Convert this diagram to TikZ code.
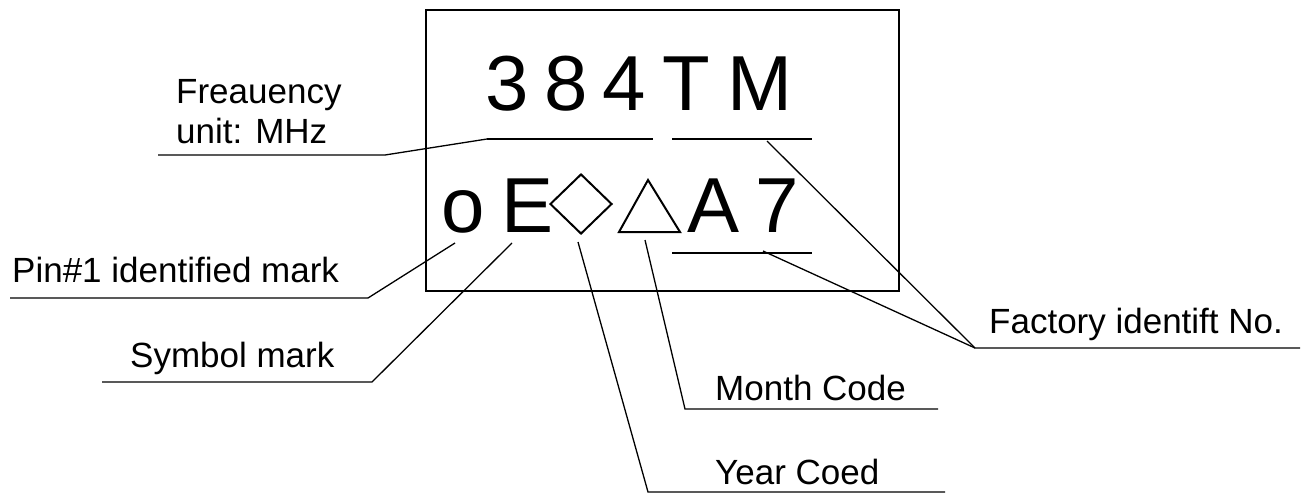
\documentclass[tikz,border=0pt]{standalone}
\usepackage{fontspec}
\setmainfont{Liberation Sans}
\usetikzlibrary{shapes.geometric}

\begin{document}
\begin{tikzpicture}[x=1pt,y=-1pt,
		bigchar/.style={font=\fontsize{78}{80}\selectfont, inner sep=0pt, anchor=base},
		leadtext/.style={font=\fontsize{35}{40}\selectfont, inner sep=0pt, anchor=base west},
		leader/.style={line width=1.3pt},
		underline/.style={line width=1.6pt},
		symbol/.style={line width=2pt, line join=miter}]
	\fill[white] (0,0) rectangle (1309,493);
	\useasboundingbox (0,0) rectangle (1309,493);
	% marking area
	\draw[line width=2pt] (426,10) rectangle (899,291);
	% first row: frequency and factory No.
	\node[bigchar] (c3) at (507.5,110) {3};
	\node[bigchar] (c8) at (566,110) {8};
	\node[bigchar] (c4) at (624,110) {4};
	\node[bigchar] (cT) at (686.5,110) {T};
	\node[bigchar] (cM) at (760,110) {M};
	% second row: marks and codes
	\node[bigchar] (co) at (463.5,232) {o};
	\node[bigchar] (cE) at (528,232) {E};
	\node[draw, symbol, diamond, inner sep=0pt, minimum width=62pt, minimum height=60pt] (year) at (581,204) {};
	\coordinate (triL) at (619,232);
	\coordinate (triT) at (648,180);
	\coordinate (triR) at (680,232);
	\draw[symbol] (triL) -- (triT) -- (triR) -- cycle;
	\node[bigchar] (cA) at (713.5,232) {A};
	\node[bigchar] (c7) at (777.5,232) {7};
	% underlines
	\coordinate (freqL) at (487,139);
	\coordinate (freqR) at (653,139);
	\coordinate (facL) at (672,139);
	\coordinate (facR) at (812,139);
	\coordinate (codeL) at (672,253);
	\coordinate (codeR) at (812,253);
	\draw[underline] (freqL) -- (freqR);
	\draw[underline] (facL) -- (facR);
	\draw[underline] (codeL) -- (codeR);
	% labels
	\node[leadtext] (freq1) at (176,103) {Freauency};
	\node[leadtext] (freq2) at (176,143) {unit: MHz};
	\node[leadtext] (pin) at (12,282) {Pin\#1 identified mark};
	\node[leadtext] (sym) at (130,367) {Symbol mark};
	\node[leadtext] (fac) at (989,333) {Factory identift No.};
	\node[leadtext] (month) at (715,400) {Month Code};
	\node[leadtext] (yr) at (715,484) {Year Coed};
	% leader lines
	\coordinate (freqA) at (385,155);
	\coordinate (freqB) at (158,155);
	\draw[leader] (freqL) -- (freqA) -- (freqB);
	\coordinate (pinA) at (455,243);
	\coordinate (pinB) at (368,298);
	\coordinate (pinC) at (10,298);
	\draw[leader] (pinA) -- (pinB) -- (pinC);
	\coordinate (symA) at (512,243);
	\coordinate (symB) at (372,382);
	\coordinate (symC) at (102,382);
	\draw[leader] (symA) -- (symB) -- (symC);
	\coordinate (yrA) at (578,242);
	\coordinate (yrB) at (648,492);
	\coordinate (yrC) at (945,492);
	\draw[leader] (yrA) -- (yrB) -- (yrC);
	\coordinate (monA) at (645,240);
	\coordinate (monB) at (685,409);
	\coordinate (monC) at (938,409);
	\draw[leader] (monA) -- (monB) -- (monC);
	\coordinate (facA) at (767,141);
	\coordinate (facB) at (763,251);
	\coordinate (facC) at (975,348);
	\coordinate (facD) at (1300,348);
	\draw[leader] (facA) -- (facC) -- (facD);
	\draw[leader] (facB) -- (facC);
\end{tikzpicture}
\end{document}
